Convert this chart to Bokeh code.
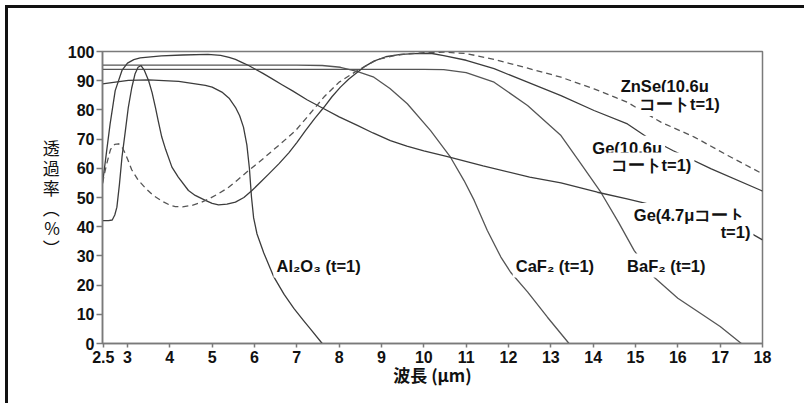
from bokeh.plotting import figure
from bokeh.models import Range1d, FixedTicker, ColumnDataSource
from bokeh.core.properties import value
from bokeh.embed import file_html
from bokeh.resources import INLINE

# ---- data (wavelength in um, transmittance in %) ----
ge47_x = [2.41, 2.5, 2.59, 2.71, 2.87, 3.0, 3.15, 3.3, 3.8, 4.3, 4.9, 5.2, 5.4, 5.55, 5.7, 5.85, 6.0,
          6.2, 6.4, 6.65, 6.9, 7.25, 7.64, 8.0, 8.43, 8.8, 9.21, 9.6, 10.0, 10.56, 11.4, 12.5, 13.24,
          14.1, 14.8, 15.44, 16.5, 17.2, 17.73, 18.0]
ge47_y = [54.7, 65.0, 75.2, 86.6, 93.5, 96.0, 97.2, 97.8, 98.5, 98.8, 99.0, 98.7, 98.0, 97.3, 96.3, 95.3, 94.1,
          92.5, 90.8, 88.6, 86.5, 83.4, 80.4, 77.6, 74.7, 72.1, 69.5, 67.6, 66.0, 64.0, 60.8, 57.0, 55.0,
          51.8, 49.5, 47.3, 43.0, 40.3, 37.7, 35.5]

ge106_x = [2.41, 2.55, 2.64, 2.7, 2.75, 2.81, 2.87, 2.95, 3.02, 3.1, 3.18, 3.25, 3.32, 3.4, 3.5, 3.58,
           3.66, 3.73, 3.81, 3.9, 4.05, 4.2, 4.44, 4.6, 4.84, 5.0, 5.15, 5.35, 5.55, 5.75, 5.94, 6.14,
           6.34, 6.58, 6.81, 7.0, 7.2, 7.42, 7.64, 7.83, 8.03, 8.23, 8.43, 8.62, 8.82, 9.1, 9.45, 9.8,
           10.16, 10.47, 11.0, 11.66, 12.45, 13.24, 14.02, 14.81, 15.25, 15.88, 16.79, 17.97, 18.0]
ge106_y = [42.1, 42.1, 42.3, 44.0, 46.7, 54.5, 63.8, 72.8, 80.9, 87.5, 92.4, 94.6, 95.2, 93.5, 90.0, 86.0,
           80.9, 76.0, 70.7, 66.5, 60.4, 57.0, 52.4, 50.7, 49.0, 48.0, 47.5, 47.7, 48.4, 50.0, 52.4, 55.2,
           58.1, 61.6, 65.3, 68.8, 72.8, 77.0, 80.9, 84.5, 87.8, 90.6, 92.9, 95.0, 96.7, 98.2, 99.0, 99.3,
           99.4, 98.6, 97.0, 94.1, 89.5, 84.9, 79.8, 75.2, 70.9, 66.1, 59.8, 52.4, 52.2]

znse_x = [2.41, 2.5, 2.6, 2.7, 2.79, 2.88, 2.95, 3.02, 3.1, 3.25, 3.42, 3.6, 3.81, 4.0, 4.13, 4.3,
          4.52, 4.72, 4.92, 5.15, 5.39, 5.6, 5.86, 6.1, 6.34, 6.65, 6.97, 7.3, 7.64, 8.0, 8.43, 8.9,
          9.3, 9.61, 10.0, 10.47, 11.0, 11.6, 12.4, 13.24, 14.02, 14.81, 15.6, 16.39, 17.18, 18.0]
znse_y = [55.0, 61.0, 66.5, 68.2, 68.4, 67.0, 65.0, 62.5, 59.5, 56.0, 53.3, 50.8, 48.8, 47.4, 46.9, 46.8,
          47.3, 48.2, 49.5, 51.3, 53.5, 56.0, 59.2, 62.0, 65.0, 68.8, 72.9, 78.5, 84.4, 89.5, 93.5, 97.2,
          98.6, 99.2, 99.6, 99.8, 99.3, 97.5, 94.5, 91.2, 87.2, 82.6, 75.8, 70.7, 64.4, 58.1]

al2o3_x = [2.41, 3.02, 3.5, 4.21, 4.84, 5.0, 5.23, 5.4, 5.55, 5.65, 5.74, 5.82, 5.88, 5.93, 5.98,
           6.06, 6.22, 6.45, 6.7, 6.93, 7.15, 7.32, 7.6]
al2o3_y = [88.9, 90.1, 90.3, 89.8, 88.4, 87.8, 86.1, 84.0, 80.9, 78.0, 74.1, 68.0, 60.0, 50.0, 43.0,
           37.5, 31.0, 23.0, 16.8, 12.0, 8.0, 5.0, 0.0]

caf2_x = [2.41, 7.0, 7.6, 8.03, 8.42, 8.82, 9.2, 9.61, 10.16, 10.63, 10.95, 11.19, 11.5, 11.82, 12.05,
          12.45, 12.92, 13.43]
caf2_y = [95.3, 95.3, 95.2, 94.6, 93.2, 91.2, 87.3, 82.1, 72.9, 63.8, 55.8, 49.0, 38.7, 29.6, 24.4,
          17.7, 9.0, 0.0]

baf2_x = [2.41, 10.0, 10.47, 11.0, 11.66, 12.45, 13.24, 13.7, 14.18, 14.6, 14.97, 15.44, 16.0, 16.55,
          17.0, 17.5]
baf2_y = [93.9, 93.9, 93.8, 92.8, 89.5, 81.5, 71.2, 61.8, 51.8, 41.5, 31.8, 22.7, 15.5, 10.2, 5.8, 0.0]

x_ticks = [2.43, 3, 4, 5, 6, 7, 8, 9, 10, 11, 12, 13, 14, 15, 16, 17, 18]
x_tick_labels = ["2.5", "3", "4", "5", "6", "7", "8", "9", "10", "11", "12", "13", "14", "15", "16", "17", "18"]
y_ticks = [0, 10, 20, 30, 40, 50, 60, 70, 80, 90, 100]

label_text = ["ZnSe(10.6μ", "コートt=1)", "Ge(10.6μ", "コートt=1)", "Ge(4.7μコート", "t=1)",
              "Al₂O₃ (t=1)", "CaF₂ (t=1)", "BaF₂ (t=1)"]
label_x = [14.58, 15.01, 13.91, 14.34, 14.89, 16.94, 6.45, 12.1, 14.73]
label_y = [88.2, 82.0, 67.0, 61.3, 44.0, 38.2, 26.7, 26.7, 26.7]

# ---- figure ----
p = figure(width=799, height=398, output_backend="svg", toolbar_location=None,
           x_range=Range1d(2.41, 18), y_range=Range1d(0, 100),
           min_border_left=94, min_border_right=45, min_border_top=43, min_border_bottom=63,
           background_fill_color="white", border_fill_color="white",
           styles={"margin-left": "5px", "margin-top": "5px",
                   "border-left": "3px solid #111", "border-top": "3px solid #111"})

p.xgrid.visible = False
p.ygrid.visible = False
p.outline_line_color = "#7a7a7a"
p.outline_line_width = 1.5

axc = "#7a7a7a"
for ax in (p.xaxis[0], p.yaxis[0]):
    ax.axis_line_color = axc
    ax.axis_line_width = 1.5
    ax.major_tick_line_color = axc
    ax.major_tick_line_width = 1.5
    ax.minor_tick_line_color = None
    ax.major_tick_in = 0
    ax.major_label_text_font = "Liberation Sans"
    ax.major_label_text_font_style = "bold"
    ax.major_label_text_font_size = "16px"
    ax.major_label_text_color = "#111"
    ax.axis_label_text_color = "#111"

p.xaxis.ticker = FixedTicker(ticks=x_ticks)
p.xaxis.major_label_overrides = {t: l for t, l in zip(x_ticks, x_tick_labels)}
p.xaxis.major_tick_out = 4
p.xaxis.major_label_standoff = 3
p.xaxis.axis_label = "波長 (μm)"
p.xaxis.axis_label_text_font = "Noto Sans CJK JP"
p.xaxis.axis_label_text_font_style = "bold"
p.xaxis.axis_label_text_font_size = "17px"
p.xaxis.axis_label_standoff = -4

p.yaxis.ticker = FixedTicker(ticks=y_ticks)
p.yaxis.major_tick_out = 6
p.yaxis.major_label_standoff = 2
p.yaxis.axis_label = "透\n過\n率\n︵\n%\n︶"
p.yaxis.axis_label_orientation = "horizontal"
p.yaxis.axis_label_text_font = "Noto Sans CJK JP"
p.yaxis.axis_label_text_font_style = "normal"
p.yaxis.axis_label_text_font_size = "17px"
p.yaxis.axis_label_text_line_height = 0.8
p.yaxis.axis_label_standoff = 5

lc = "#3c3c3c"
common = dict(line_width=1.3, line_join="round")
p.line(caf2_x, caf2_y, line_color="#555", **common)
p.line(baf2_x, baf2_y, line_color="#555", **common)
p.line(al2o3_x, al2o3_y, line_color=lc, **common)
p.line(ge47_x, ge47_y, line_color=lc, **common)
p.line(ge106_x, ge106_y, line_color=lc, **common)
p.line(znse_x, znse_y, line_color="#555", line_dash="6 4", **common)

src = ColumnDataSource(dict(x=label_x, y=label_y, t=label_text))
p.text(x="x", y="y", text="t", source=src, text_font=value("Liberation Sans"),
       text_font_style="bold", text_font_size="16.5px", text_color="#111",
       text_align="left", text_baseline="middle",
       background_fill_color="white", padding=3)

open("out.html", "w").write(file_html(p, INLINE))
